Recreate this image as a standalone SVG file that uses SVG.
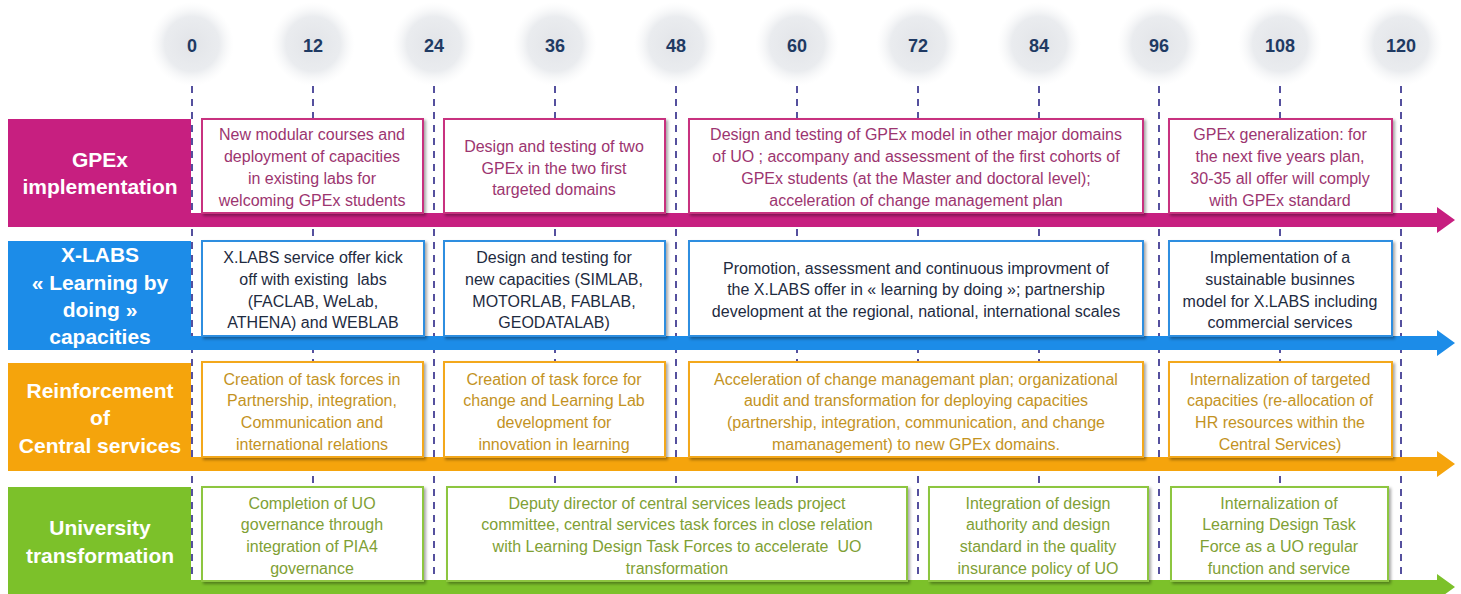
<svg xmlns="http://www.w3.org/2000/svg" width="1461" height="594" viewBox="0 0 1461 594">
<defs>
<radialGradient id="blob" cx="0.5" cy="0.5" r="0.5">
<stop offset="0" stop-color="#e2e4e8"/>
<stop offset="0.65" stop-color="#eaecef"/>
<stop offset="1" stop-color="#f6f7f8" stop-opacity="0"/>
</radialGradient>
<filter id="sh" x="-5%" y="-10%" width="115%" height="130%">
<feDropShadow dx="2" dy="2" stdDeviation="1.6" flood-color="#000" flood-opacity="0.35"/>
</filter>
</defs>
<style>
.num{font-family:"Liberation Sans",Arial,sans-serif;font-weight:bold;font-size:18px;fill:#1f3a63;text-anchor:middle}
.grid{stroke:#55509e;stroke-width:2;stroke-dasharray:7 6;fill:none}
.lab{font-family:"Liberation Sans",Arial,sans-serif;font-weight:bold;font-size:21px;fill:#ffffff;text-anchor:middle}
.t{font-family:"Liberation Sans",Arial,sans-serif;font-size:16px;text-anchor:middle}
.box{fill:#ffffff;stroke-width:2;filter:url(#sh)}
.m .box{stroke:#c8327f}.m .t{fill:#9c3570}
.b .box{stroke:#2d8ee0}.b .t{fill:#1e2b3f}
.o .box{stroke:#f3a81c}.o .t{fill:#c3931f}
.g .box{stroke:#8dc63f}.g .t{fill:#809f35}
</style>
<rect width="1461" height="594" fill="#ffffff"/>
<g id="timeline">
<circle cx="192" cy="44" r="42" fill="url(#blob)"/>
<circle cx="313" cy="44" r="42" fill="url(#blob)"/>
<circle cx="434" cy="44" r="42" fill="url(#blob)"/>
<circle cx="555" cy="44" r="42" fill="url(#blob)"/>
<circle cx="676" cy="44" r="42" fill="url(#blob)"/>
<circle cx="797" cy="44" r="42" fill="url(#blob)"/>
<circle cx="918" cy="44" r="42" fill="url(#blob)"/>
<circle cx="1039" cy="44" r="42" fill="url(#blob)"/>
<circle cx="1159" cy="44" r="42" fill="url(#blob)"/>
<circle cx="1280" cy="44" r="42" fill="url(#blob)"/>
<circle cx="1401" cy="44" r="42" fill="url(#blob)"/>
<text class="num" x="192" y="52">0</text>
<text class="num" x="313" y="52">12</text>
<text class="num" x="434" y="52">24</text>
<text class="num" x="555" y="52">36</text>
<text class="num" x="676" y="52">48</text>
<text class="num" x="797" y="52">60</text>
<text class="num" x="918" y="52">72</text>
<text class="num" x="1039" y="52">84</text>
<text class="num" x="1159" y="52">96</text>
<text class="num" x="1280" y="52">108</text>
<text class="num" x="1401" y="52">120</text>
<line class="grid" x1="192" y1="86" x2="192" y2="594"/>
<line class="grid" x1="313" y1="86" x2="313" y2="594"/>
<line class="grid" x1="434" y1="86" x2="434" y2="594"/>
<line class="grid" x1="555" y1="86" x2="555" y2="594"/>
<line class="grid" x1="676" y1="86" x2="676" y2="594"/>
<line class="grid" x1="797" y1="86" x2="797" y2="594"/>
<line class="grid" x1="918" y1="86" x2="918" y2="594"/>
<line class="grid" x1="1039" y1="86" x2="1039" y2="594"/>
<line class="grid" x1="1159" y1="86" x2="1159" y2="594"/>
<line class="grid" x1="1280" y1="86" x2="1280" y2="594"/>
<line class="grid" x1="1401" y1="86" x2="1401" y2="594"/>
</g>
<g id="connectors">
<path d="M191 213 H1437 V207 L1455 220 L1437 233 V227 H191 Z" fill="#c71f80"/>
<path d="M191 336 H1437 V330 L1455 343 L1437 356 V350 H191 Z" fill="#1c8ce8"/>
<path d="M191 457 H1437 V451 L1455 464 L1437 477 V471 H191 Z" fill="#f5a40c"/>
<path d="M191 580 H1437 V574 L1455 587 L1437 600 V594 H191 Z" fill="#7cc12a"/>
</g>
<g id="label-gpex">
<rect x="8" y="119" width="183" height="108" fill="#c71f80"/>
<text class="lab" x="100" y="167">GPEx</text>
<text class="lab" x="100" y="194">implementation</text>
</g>
<g id="label-xlabs">
<rect x="8" y="241" width="183" height="109" fill="#1c8ce8"/>
<text class="lab" x="100" y="262">X-LABS</text>
<text class="lab" x="100" y="290">« Learning by</text>
<text class="lab" x="100" y="317">doing »</text>
<text class="lab" x="100" y="344">capacities</text>
</g>
<g id="label-central">
<rect x="8" y="363" width="183" height="108" fill="#f5a40c"/>
<text class="lab" x="100" y="398">Reinforcement</text>
<text class="lab" x="100" y="425">of</text>
<text class="lab" x="100" y="453">Central services</text>
</g>
<g id="label-university">
<rect x="8" y="487" width="183" height="107" fill="#7cc12a"/>
<text class="lab" x="100" y="535">University</text>
<text class="lab" x="100" y="563">transformation</text>
</g>
<g id="gpex-1" class="m">
<rect class="box" x="202" y="119" width="221" height="94"/>
<text class="t" x="312" y="140">New modular courses and</text>
<text class="t" x="312" y="162">deployment of capacities</text>
<text class="t" x="312" y="184">in existing labs for</text>
<text class="t" x="312" y="206">welcoming GPEx students</text>
</g>
<g id="gpex-2" class="m">
<rect class="box" x="444" y="119" width="221" height="94"/>
<text class="t" x="554" y="152">Design and testing of two</text>
<text class="t" x="554" y="174">GPEx in the two first</text>
<text class="t" x="554" y="195">targeted domains</text>
</g>
<g id="gpex-3" class="m">
<rect class="box" x="689" y="119" width="454" height="94"/>
<text class="t" x="916" y="140">Design and testing of GPEx model in other major domains</text>
<text class="t" x="916" y="162">of UO ; accompany and assessment of the first cohorts of</text>
<text class="t" x="916" y="184">GPEx students (at the Master and doctoral level);</text>
<text class="t" x="916" y="206">acceleration of change management plan</text>
</g>
<g id="gpex-4" class="m">
<rect class="box" x="1169" y="119" width="223" height="94"/>
<text class="t" x="1280" y="140">GPEx generalization: for</text>
<text class="t" x="1280" y="162">the next five years plan,</text>
<text class="t" x="1280" y="184">30-35 all offer will comply</text>
<text class="t" x="1280" y="206">with GPEx standard</text>
</g>
<g id="xlabs-1" class="b">
<rect class="box" x="202" y="241" width="222" height="95"/>
<text class="t" x="313" y="263">X.LABS service offer kick</text>
<text class="t" x="313" y="285" xml:space="preserve">off with existing  labs</text>
<text class="t" x="313" y="307">(FACLAB, WeLab,</text>
<text class="t" x="313" y="328">ATHENA) and WEBLAB</text>
</g>
<g id="xlabs-2" class="b">
<rect class="box" x="444" y="241" width="221" height="95"/>
<text class="t" x="554" y="263">Design and testing for</text>
<text class="t" x="554" y="285">new capacities (SIMLAB,</text>
<text class="t" x="554" y="307">MOTORLAB, FABLAB,</text>
<text class="t" x="554" y="328">GEODATALAB)</text>
</g>
<g id="xlabs-3" class="b">
<rect class="box" x="689" y="241" width="454" height="95"/>
<text class="t" x="916" y="274">Promotion, assessment and continuous improvment of</text>
<text class="t" x="916" y="295">the X.LABS offer in « learning by doing »; partnership</text>
<text class="t" x="916" y="317">development at the regional, national, international scales</text>
</g>
<g id="xlabs-4" class="b">
<rect class="box" x="1169" y="241" width="223" height="95"/>
<text class="t" x="1280" y="263">Implementation of a</text>
<text class="t" x="1280" y="285">sustainable businnes</text>
<text class="t" x="1280" y="307">model for X.LABS including</text>
<text class="t" x="1280" y="328">commercial services</text>
</g>
<g id="central-1" class="o">
<rect class="box" x="202" y="362" width="221" height="95"/>
<text class="t" x="312" y="385">Creation of task forces in</text>
<text class="t" x="312" y="406">Partnership, integration,</text>
<text class="t" x="312" y="428">Communication and</text>
<text class="t" x="312" y="450">international relations</text>
</g>
<g id="central-2" class="o">
<rect class="box" x="444" y="362" width="221" height="95"/>
<text class="t" x="554" y="385">Creation of task force for</text>
<text class="t" x="554" y="406">change and Learning Lab</text>
<text class="t" x="554" y="428">development for</text>
<text class="t" x="554" y="450">innovation in learning</text>
</g>
<g id="central-3" class="o">
<rect class="box" x="689" y="362" width="454" height="95"/>
<text class="t" x="916" y="385">Acceleration of change managemant plan; organizational</text>
<text class="t" x="916" y="406">audit and transformation for deploying capacities</text>
<text class="t" x="916" y="428">(partnership, integration, communication, and change</text>
<text class="t" x="916" y="450">mamanagement) to new GPEx domains.</text>
</g>
<g id="central-4" class="o">
<rect class="box" x="1169" y="362" width="223" height="95"/>
<text class="t" x="1280" y="385">Internalization of targeted</text>
<text class="t" x="1280" y="406">capacities (re-allocation of</text>
<text class="t" x="1280" y="428">HR resources within the</text>
<text class="t" x="1280" y="450">Central Services)</text>
</g>
<g id="univ-1" class="g">
<rect class="box" x="202" y="487" width="221" height="94"/>
<text class="t" x="312" y="509">Completion of UO</text>
<text class="t" x="312" y="530">governance through</text>
<text class="t" x="312" y="552">integration of PIA4</text>
<text class="t" x="312" y="574">governance</text>
</g>
<g id="univ-2" class="g">
<rect class="box" x="447" y="487" width="460" height="94"/>
<text class="t" x="677" y="509">Deputy director of central services leads project</text>
<text class="t" x="677" y="530">committee, central services task forces in close relation</text>
<text class="t" x="677" y="552" xml:space="preserve">with Learning Design Task Forces to accelerate  UO</text>
<text class="t" x="677" y="574">transformation</text>
</g>
<g id="univ-3" class="g">
<rect class="box" x="929" y="487" width="219" height="94"/>
<text class="t" x="1038" y="509">Integration of design</text>
<text class="t" x="1038" y="530">authority and design</text>
<text class="t" x="1038" y="552">standard in the quality</text>
<text class="t" x="1038" y="574">insurance policy of UO</text>
</g>
<g id="univ-4" class="g">
<rect class="box" x="1171" y="487" width="217" height="94"/>
<text class="t" x="1279" y="509">Internalization of</text>
<text class="t" x="1279" y="530">Learning Design Task</text>
<text class="t" x="1279" y="552">Force as a UO regular</text>
<text class="t" x="1279" y="574">function and service</text>
</g>
</svg>
